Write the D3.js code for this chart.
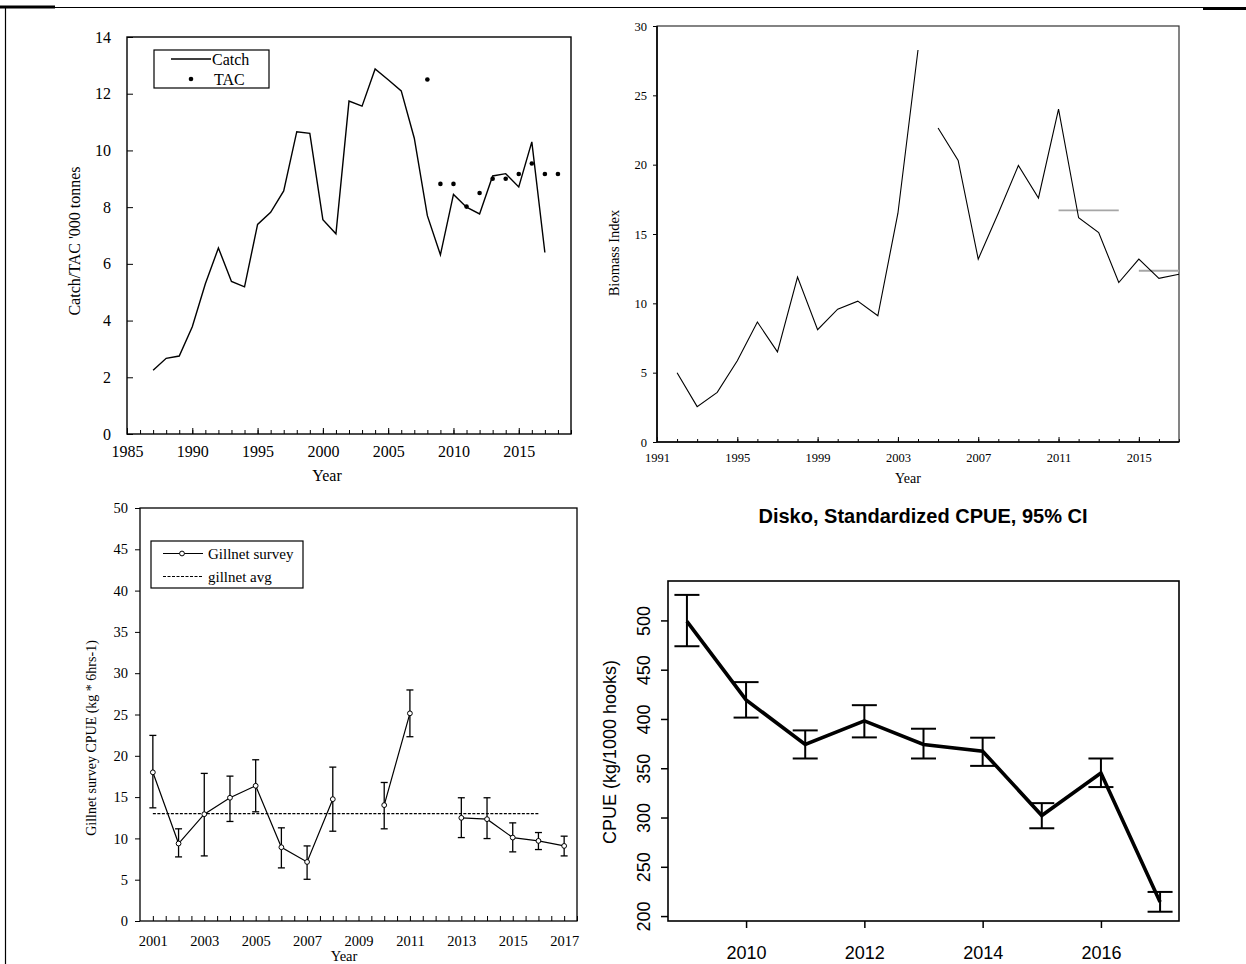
<!DOCTYPE html>
<html>
<head>
<meta charset="utf-8">
<script src="https://cdn.jsdelivr.net/npm/d3@7"></script>
<style>
  body { margin: 0; background: #fff; }
  svg { display: block; }
  .serif text, text.serif { font-family: "Liberation Serif", "DejaVu Serif", serif; }
  .sans text, text.sans { font-family: "Liberation Sans", Arial, sans-serif; }
</style>
</head>
<body>
<svg id="fig" width="1246" height="964"></svg>
<script>
// ---- catch and TAC ('000 t) ----
const catchYears = [1987, 1988, 1989, 1990, 1991, 1992, 1993, 1994, 1995, 1996, 1997, 1998, 1999, 2000, 2001, 2002,
  2003, 2004, 2005, 2006, 2007, 2008, 2009, 2010, 2011, 2012, 2013, 2014, 2015, 2016, 2017];
const catchValues = [2.25, 2.67, 2.75, 3.78, 5.3, 6.56, 5.38, 5.19, 7.39, 7.82, 8.57, 10.66, 10.6, 7.56, 7.06, 11.74,
  11.56, 12.87, 12.49, 12.1, 10.43, 7.7, 6.32, 8.45, 8.0, 7.76, 9.1, 9.18, 8.71, 10.3, 6.4];
const tacYears = [2008, 2009, 2010, 2011, 2012, 2013, 2014, 2015, 2016, 2017, 2018];
const tacValues = [12.5, 8.82, 8.82, 8.02, 8.5, 9.0, 9.0, 9.17, 9.54, 9.17, 9.17];
const catchTicksY = [0, 2, 4, 6, 8, 10, 12, 14];
const catchTicksX = [1985, 1990, 1995, 2000, 2005, 2010, 2015];

// ---- biomass index (two survey series) ----
const biomassYearsA = [1992, 1993, 1994, 1995, 1996, 1997, 1998, 1999, 2000, 2001, 2002, 2003, 2004];
const biomassA = [5.0, 2.55, 3.58, 5.86, 8.65, 6.5, 11.9, 8.1, 9.58, 10.16, 9.1, 16.5, 28.27];
const biomassYearsB = [2005, 2006, 2007, 2008, 2009, 2010, 2011, 2012, 2013, 2014, 2015, 2016, 2017];
const biomassB = [22.65, 20.3, 13.19, 16.5, 19.94, 17.6, 24.0, 16.17, 15.1, 11.5, 13.19, 11.8, 12.1];
const refFrom = [2011, 2015];
const refTo = [2014, 2017];
const refValue = [16.7, 12.35];
const biomassTicksY = [0, 5, 10, 15, 20, 25, 30];
const biomassTicksX = [1991, 1995, 1999, 2003, 2007, 2011, 2015];

// ---- gillnet survey ----
const gillYears = [2001, 2002, 2003, 2004, 2005, 2006, 2007, 2008, 2009, 2010, 2011, 2012, 2013, 2014, 2015, 2016, 2017];
const gillCpue = [18.0, 9.38, 12.93, 14.92, 16.37, 8.93, 7.15, 14.75, null, 14.03, 25.14, null, 12.49, 12.33, 10.1, 9.7, 9.09];
const gillHigh = [22.47, 11.16, 17.87, 17.54, 19.52, 11.28, 9.09, 18.63, null, 16.77, 27.97, null, 14.92, 14.92, 11.88, 10.71, 10.27];
const gillLow = [13.7, 7.76, 7.88, 12.05, 13.22, 6.43, 5.05, 10.87, null, 11.16, 22.31, null, 10.1, 9.98, 8.37, 8.65, 7.88];
const gillAvgYears = [2001, 2016];
const gillAvg = 13.0;
const gillTicksY = [0, 5, 10, 15, 20, 25, 30, 35, 40, 45, 50];
const gillTicksX = [2001, 2003, 2005, 2007, 2009, 2011, 2013, 2015, 2017];

// ---- Disko standardized CPUE ----
const diskoYears = [2009, 2010, 2011, 2012, 2013, 2014, 2015, 2016, 2017];
const diskoCpue = [499, 419.4, 374.1, 398, 374.1, 367.3, 302, 345.2, 214.3];
const diskoHigh = [525.9, 437.4, 388.4, 414, 390.1, 381, 314.6, 359.9, 224.5];
const diskoLow = [473.8, 401.4, 359.9, 381.3, 359.9, 352.4, 289.1, 330.9, 204.4];
const diskoTicksY = [200, 250, 300, 350, 400, 450, 500];
const diskoTicksX = [2010, 2012, 2014, 2016];

const svg = d3.select("#fig");

// page frame
svg.append("line").attr("x1", 5.5).attr("x2", 5.5).attr("y1", 7).attr("y2", 964).attr("stroke", "#000").attr("stroke-width", 1.2);
svg.append("line").attr("x1", 5).attr("x2", 1205).attr("y1", 7.5).attr("y2", 7.5).attr("stroke", "#000").attr("stroke-width", 1);
svg.append("line").attr("x1", 0).attr("x2", 55).attr("y1", 7).attr("y2", 7).attr("stroke", "#000").attr("stroke-width", 3);
svg.append("line").attr("x1", 1203).attr("x2", 1246).attr("y1", 8.5).attr("y2", 8.5).attr("stroke", "#000").attr("stroke-width", 3);

function box(g, x0, y0, x1, y1, color, width) {
  g.append("rect").attr("x", x0).attr("y", y0).attr("width", x1 - x0).attr("height", y1 - y0)
    .attr("fill", "none").attr("stroke", color).attr("stroke-width", width);
}

function styleAxis(a, size, color) {
  a.select(".domain").remove();
  a.selectAll("line").attr("stroke", color).attr("stroke-width", 1);
  a.selectAll("text").attr("font-size", size).attr("fill", "#000");
}

// ================= top-left: catch & TAC =================
function makeCatchChart() {
  const g = svg.append("g").attr("class", "serif");
  const x = d3.scaleLinear([1985, 2019], [127, 571]);
  const y = d3.scaleLinear([0, 14], [434, 37]);

  g.append("g").attr("transform", "translate(0,434)")
    .call(d3.axisBottom(x).tickValues(d3.range(1985, 2020)).tickSize(-4).tickFormat(""))
    .call(a => styleAxis(a, 16, "#000"));
  g.append("g").attr("transform", "translate(0,434)")
    .call(d3.axisBottom(x).tickValues(catchTicksX).tickSize(-6).tickPadding(12).tickFormat(d3.format("d")))
    .call(a => styleAxis(a, 16, "#000"));
  g.append("g").attr("transform", "translate(127,0)")
    .call(d3.axisLeft(y).tickValues(catchTicksY).tickSize(-6).tickPadding(16))
    .call(a => styleAxis(a, 16, "#000"));
  box(g, 127, 37, 571, 434, "#000", 1.4);

  const line = d3.line().x((d, i) => x(catchYears[i])).y(d => y(d));
  g.append("path").attr("d", line(catchValues)).attr("fill", "none").attr("stroke", "#000").attr("stroke-width", 1.4);

  g.selectAll("circle.tac").data(tacValues).join("circle").attr("class", "tac")
    .attr("cx", (d, i) => x(tacYears[i])).attr("cy", d => y(d)).attr("r", 2.3).attr("fill", "#000");

  // legend
  box(g, 154, 50, 269, 88, "#000", 1.2);
  g.append("line").attr("x1", 171).attr("x2", 211).attr("y1", 59).attr("y2", 59).attr("stroke", "#000").attr("stroke-width", 1.3);
  g.append("text").attr("x", 212).attr("y", 64.5).attr("font-size", 16).text("Catch");
  g.append("circle").attr("cx", 191).attr("cy", 79).attr("r", 2.3).attr("fill", "#000");
  g.append("text").attr("x", 214).attr("y", 85).attr("font-size", 16).text("TAC");

  g.append("text").attr("x", 327).attr("y", 481).attr("text-anchor", "middle").attr("font-size", 16).text("Year");
  g.append("text").attr("transform", "translate(80,241) rotate(-90)").attr("text-anchor", "middle")
    .attr("font-size", 16).text("Catch/TAC '000 tonnes");
}

// ================= top-right: biomass index =================
function makeBiomassChart() {
  const g = svg.append("g").attr("class", "serif");
  const x = d3.scaleLinear([1991, 2017], [657, 1179]);
  const y = d3.scaleLinear([0, 30], [442, 26]);

  g.append("g").attr("transform", "translate(0,442)")
    .call(d3.axisBottom(x).tickValues(d3.range(1991, 2018)).tickSize(-3).tickFormat(""))
    .call(a => styleAxis(a, 12.5, "#000"));
  g.append("g").attr("transform", "translate(0,442)")
    .call(d3.axisBottom(x).tickValues(biomassTicksX).tickSize(-5).tickPadding(11).tickFormat(d3.format("d")))
    .call(a => styleAxis(a, 12.5, "#000"));
  g.append("g").attr("transform", "translate(657,0)")
    .call(d3.axisLeft(y).tickValues(biomassTicksY).tickSize(4).tickPadding(6))
    .call(a => styleAxis(a, 12.5, "#000"));
  box(g, 657, 26, 1179, 442, "#333", 1.2);
  g.append("line").attr("x1", 657).attr("x2", 1179).attr("y1", 442).attr("y2", 442).attr("stroke", "#000").attr("stroke-width", 1.6);
  g.append("line").attr("x1", 657).attr("x2", 657).attr("y1", 26).attr("y2", 442).attr("stroke", "#000").attr("stroke-width", 1.6);

  g.selectAll("line.ref").data(refValue).join("line").attr("class", "ref")
    .attr("x1", (d, i) => x(refFrom[i])).attr("x2", (d, i) => x(refTo[i]))
    .attr("y1", d => y(d)).attr("y2", d => y(d))
    .attr("stroke", "#a6a6a6").attr("stroke-width", 1.8);

  const lineA = d3.line().x((d, i) => x(biomassYearsA[i])).y(d => y(d));
  const lineB = d3.line().x((d, i) => x(biomassYearsB[i])).y(d => y(d));
  g.append("path").attr("d", lineA(biomassA)).attr("fill", "none").attr("stroke", "#000").attr("stroke-width", 1.1);
  g.append("path").attr("d", lineB(biomassB)).attr("fill", "none").attr("stroke", "#000").attr("stroke-width", 1.1);

  g.append("text").attr("x", 908).attr("y", 483).attr("text-anchor", "middle").attr("font-size", 14).text("Year");
  g.append("text").attr("transform", "translate(619,253) rotate(-90)").attr("text-anchor", "middle")
    .attr("font-size", 14.5).text("Biomass Index");
}

// ================= bottom-left: gillnet survey =================
function makeGillnetChart() {
  const g = svg.append("g").attr("class", "serif");
  const x = d3.scaleLinear([2000.5, 2017.5], [140, 577]);
  const y = d3.scaleLinear([0, 50], [921, 508]);

  g.append("g").attr("transform", "translate(0,921)")
    .call(d3.axisBottom(x).tickValues(d3.range(2001, 2017.6, 0.5)).tickSize(-5).tickFormat(""))
    .call(a => styleAxis(a, 14.5, "#000"));
  g.append("g").attr("transform", "translate(0,921)")
    .call(d3.axisBottom(x).tickValues(gillTicksX).tickSize(0).tickPadding(15).tickFormat(d3.format("d")))
    .call(a => styleAxis(a, 14.5, "#000"));
  g.append("g").attr("transform", "translate(140,0)")
    .call(d3.axisLeft(y).tickValues(gillTicksY).tickSize(5).tickPadding(7))
    .call(a => styleAxis(a, 14.5, "#000"));
  box(g, 140, 508, 577, 921, "#000", 1.3);

  // average line
  g.append("line").attr("x1", x(gillAvgYears[0])).attr("x2", x(gillAvgYears[1]))
    .attr("y1", y(gillAvg)).attr("y2", y(gillAvg))
    .attr("stroke", "#000").attr("stroke-width", 1.2).attr("stroke-dasharray", "3,1.5");

  // error bars
  const bars = g.append("g").attr("stroke", "#000").attr("stroke-width", 1.3);
  gillCpue.forEach((v, i) => {
    if (v == null) return;
    const cx = x(gillYears[i]);
    bars.append("line").attr("x1", cx).attr("x2", cx).attr("y1", y(gillHigh[i])).attr("y2", y(gillLow[i]));
    bars.append("line").attr("x1", cx - 3.5).attr("x2", cx + 3.5).attr("y1", y(gillHigh[i])).attr("y2", y(gillHigh[i]));
    bars.append("line").attr("x1", cx - 3.5).attr("x2", cx + 3.5).attr("y1", y(gillLow[i])).attr("y2", y(gillLow[i]));
  });

  const line = d3.line().defined(d => d != null).x((d, i) => x(gillYears[i])).y(d => y(d));
  g.append("path").attr("d", line(gillCpue)).attr("fill", "none").attr("stroke", "#000").attr("stroke-width", 1.2);
  g.selectAll("circle.pt").data(gillCpue.map((v, i) => ({ year: gillYears[i], v })).filter(d => d.v != null))
    .join("circle").attr("class", "pt")
    .attr("cx", d => x(d.year)).attr("cy", d => y(d.v)).attr("r", 2.4)
    .attr("fill", "#fff").attr("stroke", "#000").attr("stroke-width", 1);

  // legend
  box(g, 151, 541, 303, 588, "#000", 1.2);
  g.append("line").attr("x1", 163).attr("x2", 203).attr("y1", 553.5).attr("y2", 553.5).attr("stroke", "#000").attr("stroke-width", 1.2);
  g.append("circle").attr("cx", 182).attr("cy", 553.5).attr("r", 2.4).attr("fill", "#fff").attr("stroke", "#000");
  g.append("text").attr("x", 208).attr("y", 559).attr("font-size", 15).text("Gillnet survey");
  g.append("line").attr("x1", 163).attr("x2", 203).attr("y1", 576.5).attr("y2", 576.5)
    .attr("stroke", "#000").attr("stroke-width", 1.1).attr("stroke-dasharray", "3,1.5");
  g.append("text").attr("x", 208).attr("y", 582).attr("font-size", 15).text("gillnet avg");

  g.append("text").attr("x", 344).attr("y", 961).attr("text-anchor", "middle").attr("font-size", 14.5).text("Year");
  g.append("text").attr("transform", "translate(96,738) rotate(-90)").attr("text-anchor", "middle")
    .attr("font-size", 14).text("Gillnet survey CPUE (kg * 6hrs-1)");
}

// ================= bottom-right: Disko standardized CPUE =================
function makeDiskoChart() {
  const g = svg.append("g").attr("class", "sans");
  const x = d3.scaleLinear([2008.68, 2017.32], [668, 1179]);
  const y = d3.scaleLinear([195, 540], [921, 581]);

  g.append("g").attr("transform", "translate(0,921)")
    .call(d3.axisBottom(x).tickValues(diskoTicksX).tickSize(7).tickPadding(18).tickFormat(d3.format("d")))
    .call(a => styleAxis(a, 18, "#000"))
    .call(a => a.selectAll("line").attr("stroke-width", 1.5));
  g.append("g").attr("transform", "translate(668,0)")
    .call(d3.axisLeft(y).tickValues(diskoTicksY).tickSize(7))
    .call(a => styleAxis(a, 18, "#000"))
    .call(a => a.selectAll("line").attr("stroke-width", 1.5))
    .call(a => a.selectAll("text").attr("x", null).attr("dy", null).attr("text-anchor", "middle")
      .attr("transform", "translate(-18,0) rotate(-90)"));
  box(g, 668, 581, 1179, 921, "#000", 1.6);

  const bars = g.append("g").attr("stroke", "#000").attr("stroke-width", 2);
  diskoCpue.forEach((v, i) => {
    const cx = x(diskoYears[i]);
    bars.append("line").attr("x1", cx).attr("x2", cx).attr("y1", y(diskoHigh[i])).attr("y2", y(diskoLow[i]));
    bars.append("line").attr("x1", cx - 12.5).attr("x2", cx + 12.5).attr("y1", y(diskoHigh[i])).attr("y2", y(diskoHigh[i]));
    bars.append("line").attr("x1", cx - 12.5).attr("x2", cx + 12.5).attr("y1", y(diskoLow[i])).attr("y2", y(diskoLow[i]));
  });

  const line = d3.line().x((d, i) => x(diskoYears[i])).y(d => y(d));
  g.append("path").attr("d", line(diskoCpue)).attr("fill", "none").attr("stroke", "#000").attr("stroke-width", 3.6);

  g.append("text").attr("x", 923).attr("y", 523).attr("text-anchor", "middle").attr("font-size", 20)
    .attr("font-weight", "bold").text("Disko, Standardized CPUE, 95% CI");
  g.append("text").attr("transform", "translate(616,752) rotate(-90)").attr("text-anchor", "middle")
    .attr("font-size", 18).text("CPUE (kg/1000 hooks)");
}

makeCatchChart();
makeBiomassChart();
makeGillnetChart();
makeDiskoChart();
</script>
</body>
</html>
